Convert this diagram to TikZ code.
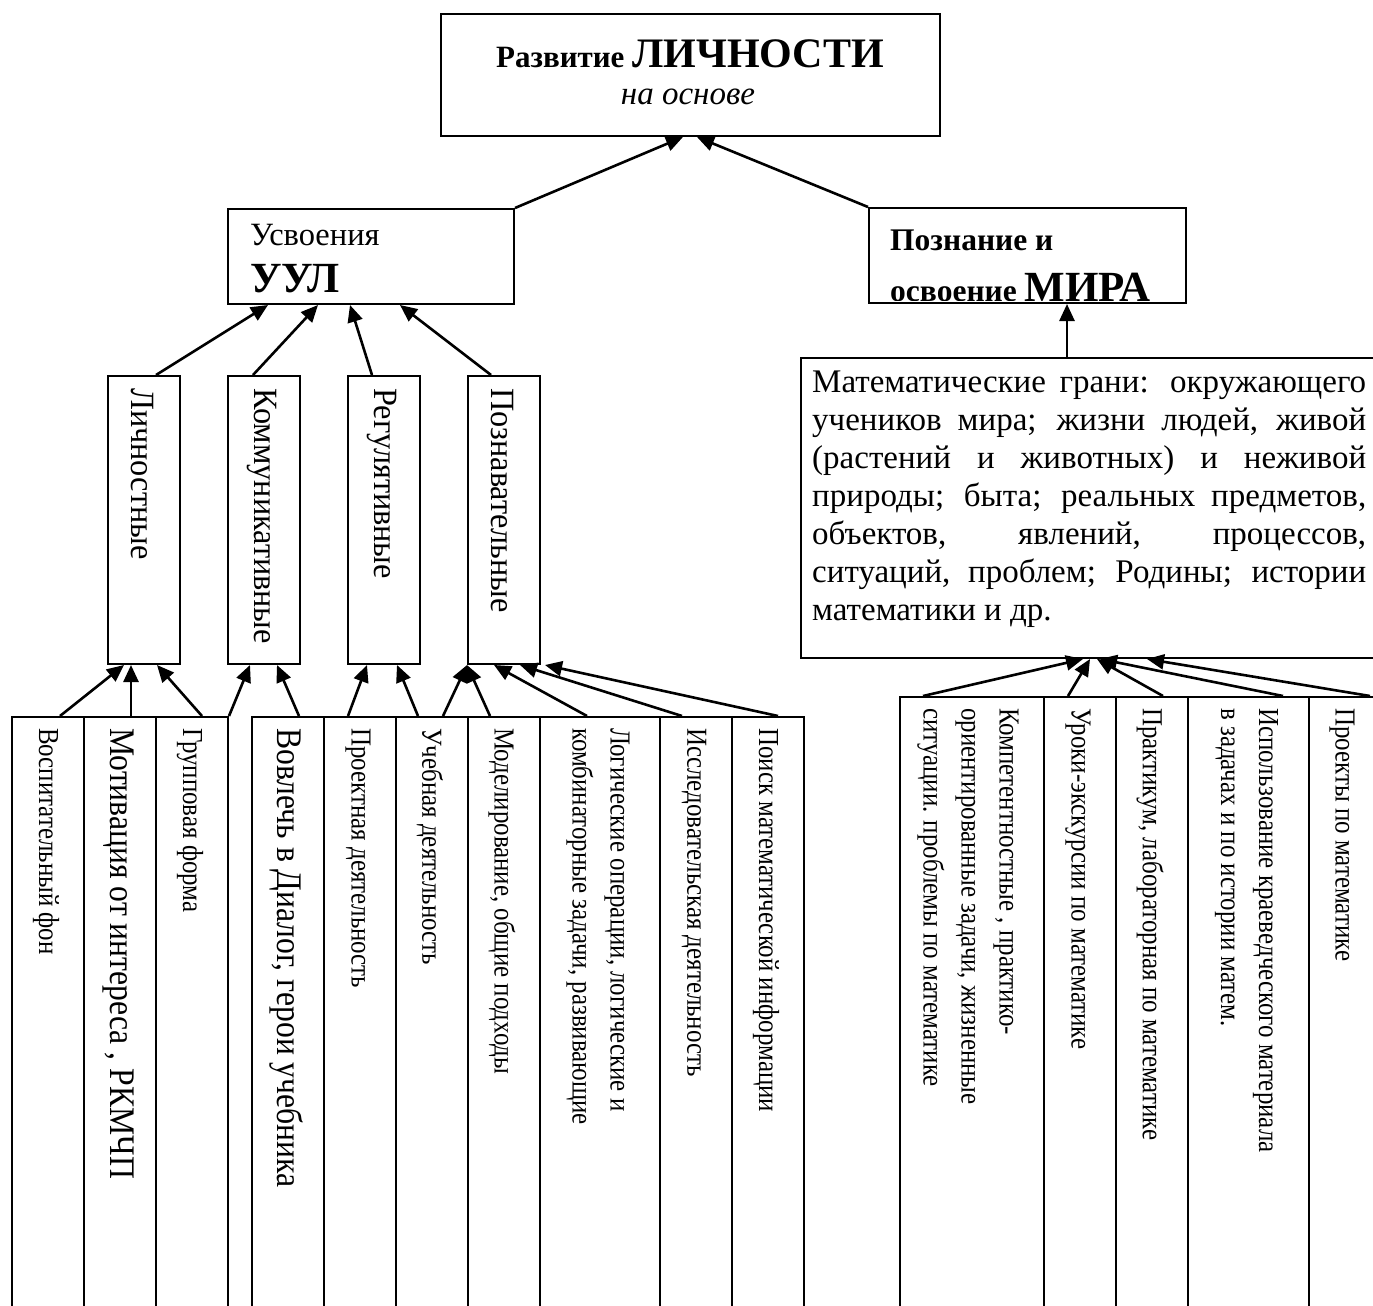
\documentclass[tikz,border=0pt]{standalone}
\usepackage{fontspec}
\setmainfont{Liberation Serif}
\newfontfamily\condfont[FakeStretch=0.86]{Liberation Serif}
\newfontfamily\bigcondfont[FakeStretch=0.88]{Liberation Serif}
\newfontfamily\headfont[FakeStretch=0.95]{Liberation Serif}
\usetikzlibrary{arrows.meta,calc}

\tikzset{
  frame/.style={draw, line width=2pt, inner sep=0pt, anchor=north west},
  arr/.style={-{Triangle[length=17pt,width=15pt]}, line width=2.6pt},
  lbl/.style={anchor=base west, inner sep=0pt},
  vhead/.style={rotate=-90, anchor=west, inner sep=0pt, font=\headfont\fontsize{34}{40}\selectfont},
  vtext/.style={rotate=-90, anchor=west, align=left, inner sep=0pt, font=\condfont\fontsize{29}{38}\selectfont},
  vbig/.style={vtext, font=\bigcondfont\fontsize{36}{44}\selectfont},
}

\begin{document}
\begin{tikzpicture}[x=1pt,y=-1pt]
	\useasboundingbox (0,0) rectangle (1373,1306);
	\clip (0,0) rectangle (1373,1306);

	% top boxes
	\node[frame, minimum width=499pt, minimum height=122pt] (razv) at (440,13) {};
	\node[anchor=base, inner sep=0pt] (razvA) at (690,67) {\fontsize{31}{36}\selectfont\bfseries Развитие \fontsize{42}{48}\selectfont ЛИЧНОСТИ};
	\node[anchor=base, inner sep=0pt] (razvB) at (688,104) {\fontsize{33}{38}\selectfont\itshape на основе};

	\node[frame, minimum width=286pt, minimum height=95pt] (usv) at (227,208) {};
	\node[lbl] (usvA) at (250,245) {\fontsize{32.5}{38}\selectfont Усвоения};
	\node[lbl] (usvB) at (250,292) {\fontsize{43}{48}\selectfont\bfseries УУЛ};

	\node[frame, minimum width=317pt, minimum height=95pt] (pozn) at (868,207) {};
	\begin{scope}
		\clip ($(pozn.north west)+(0,2)$) rectangle ($(pozn.south east)+(0,-4)$);
		\node[lbl] (poznA) at (890,250) {\fontsize{31.5}{36}\selectfont\bfseries Познание и};
		\node[lbl] (poznB) at (890,301) {\fontsize{31.5}{36}\selectfont\bfseries освоение \fontsize{43}{48}\selectfont МИРА};
	\end{scope}

	\node[frame, minimum width=600pt, minimum height=300pt] (mir) at (800,357) {};
	\node[anchor=north west, inner sep=0pt, text width=554pt, align=justify, font=\fontsize{33}{38}\selectfont] (mirT) at (812,371)
		{Математические грани: окружающего\linebreak учеников мира; жизни людей, живой\linebreak (растений и животных) и неживой\linebreak природы; быта; реальных предметов,\linebreak объектов, явлений, процессов,\linebreak ситуаций, проблем; Родины; истории\linebreak математики и др.};

	% kinds of UUD
	\node[frame, minimum width=72pt, minimum height=288pt] (lich) at (107,375) {};
	\node[frame, minimum width=72pt, minimum height=288pt] (komm) at (227,375) {};
	\node[frame, minimum width=72pt, minimum height=288pt] (reg) at (347,375) {};
	\node[frame, minimum width=72pt, minimum height=288pt] (poz) at (467,375) {};
	\node[vhead] (lichT) at ($(lich.north)+(-2,13)$) {Личностные};
	\node[vhead] (kommT) at ($(komm.north)+(-2,13)$) {Коммуникативные};
	\node[vhead] (regT) at ($(reg.north)+(-2,13)$) {Регулятивные};
	\node[vhead] (pozT) at ($(poz.north)+(-2,13)$) {Познавательные};

	% columns, left
	\node[frame, minimum width=72pt, minimum height=620pt] (vosp) at (11,716) {};
	\node[frame, minimum width=72pt, minimum height=620pt] (motiv) at (83,716) {};
	\node[frame, minimum width=72pt, minimum height=620pt] (grup) at (155,716) {};
	\node[frame, minimum width=72pt, minimum height=620pt] (vovl) at (251,716) {};
	\node[frame, minimum width=72pt, minimum height=620pt] (proekt) at (323,716) {};
	\node[frame, minimum width=72pt, minimum height=620pt] (ucheb) at (395,716) {};
	\node[frame, minimum width=72pt, minimum height=620pt] (model) at (467,716) {};
	\node[frame, minimum width=120pt, minimum height=620pt] (logic) at (539,716) {};
	\node[frame, minimum width=72pt, minimum height=620pt] (issl) at (659,716) {};
	\node[frame, minimum width=72pt, minimum height=620pt] (poisk) at (731,716) {};

	\node[vtext] (vospT) at ($(vosp.north)+(-2,12)$) {Воспитательный фон};
	\node[vbig] (motivT) at ($(motiv.north)+(-2,12)$) {Мотивация от интереса , РКМЧП};
	\node[vtext] (grupT) at ($(grup.north)+(-2,12)$) {Групповая форма};
	\node[vbig] (vovlT) at ($(vovl.north)+(-2,12)$) {Вовлечь в Диалог, герои учебника};
	\node[vtext] (proektT) at ($(proekt.north)+(-2,12)$) {Проектная деятельность};
	\node[vtext] (uchebT) at ($(ucheb.north)+(-2,12)$) {Учебная деятельность};
	\node[vtext] (modelT) at ($(model.north)+(-2,12)$) {Моделирование, общие подходы};
	\node[vtext] (logicT) at ($(logic.north)+(-2,12)$) {Логические операции, логические и\\комбинаторные задачи, развивающие};
	\node[vtext] (isslT) at ($(issl.north)+(-2,12)$) {Исследовательская деятельность};
	\node[vtext] (poiskT) at ($(poisk.north)+(-2,12)$) {Поиск математической информации};

	% columns, right
	\node[frame, minimum width=144pt, minimum height=640pt] (komp) at (899,696) {};
	\node[frame, minimum width=72pt, minimum height=640pt] (uroki) at (1043,696) {};
	\node[frame, minimum width=72pt, minimum height=640pt] (prakt) at (1115,696) {};
	\node[frame, minimum width=121pt, minimum height=640pt] (kraev) at (1187,696) {};
	\node[frame, minimum width=90pt, minimum height=640pt] (proekty) at (1308,696) {};

	\node[vtext] (kompT) at ($(komp.north)+(-4,12)$) {Компетентностные , практико-\\ориентированные задачи, жизненные\\ситуации. проблемы по математике};
	\node[vtext] (urokiT) at ($(uroki.north)+(-2,12)$) {Уроки-экскурсии по математике};
	\node[vtext] (praktT) at ($(prakt.north)+(-2,12)$) {Практикум, лабораторная по математике};
	\node[vtext] (kraevT) at ($(kraev.north)+(-2,12)$) {Использование краеведческого материала\\в задачах и по истории матем.};
	\node[vtext] (proektyT) at ($(proekty.north west)+(34,12)$) {Проекты по математике};

	% arrows up
	\draw[arr] (usv.north east) -- ($(razv.south west)+(243,0)$);
	\draw[arr] (pozn.north west) -- ($(razv.south west)+(257,0)$);
	\draw[arr] ($(mir.north west)+(267,0)$) -- ($(pozn.south west)+(199,0)$);

	\draw[arr] ($(lich.north)+(12,0)$) -- ($(usv.south west)+(41,0)$);
	\draw[arr] ($(komm.north)+(-11,0)$) -- ($(usv.south west)+(91,0)$);
	\draw[arr] ($(reg.north)+(-12,0)$) -- ($(usv.south west)+(123,0)$);
	\draw[arr] ($(poz.north)+(-13,0)$) -- ($(usv.south west)+(173,0)$);

	\draw[arr] ($(vosp.north west)+(49,0)$) -- ($(lich.south west)+(17,0)$);
	\draw[arr] ($(motiv.north west)+(48,0)$) -- ($(lich.south west)+(24,0)$);
	\draw[arr] ($(grup.north west)+(47,0)$) -- ($(lich.south west)+(50,0)$);
	\draw[arr] (grup.north east) -- ($(komm.south west)+(23,0)$);
	\draw[arr] ($(vovl.north west)+(48,0)$) -- ($(komm.south west)+(50,0)$);
	\draw[arr] ($(proekt.north west)+(25,0)$) -- ($(reg.south west)+(20,0)$);
	\draw[arr] ($(ucheb.north west)+(23,0)$) -- ($(reg.south west)+(50,0)$);
	\draw[arr] ($(ucheb.north west)+(48,0)$) -- (poz.south west);
	\draw[arr] ($(model.north west)+(23,0)$) -- (poz.south west);
	\draw[arr] ($(logic.north west)+(48,0)$) -- ($(poz.south west)+(27,0)$);
	\draw[arr] ($(issl.north west)+(23,0)$) -- ($(poz.south west)+(53,0)$);
	\draw[arr] ($(poisk.north west)+(47,0)$) -- ($(poz.south east)+(4,0)$);

	\draw[arr] ($(komp.north west)+(24,0)$) -- ($(mir.south west)+(283,0)$);
	\draw[arr] ($(uroki.north west)+(25,0)$) -- ($(mir.south west)+(290,0)$);
	\draw[arr] ($(prakt.north west)+(48,0)$) -- ($(mir.south west)+(297,0)$);
	\draw[arr] ($(kraev.north west)+(96,0)$) -- ($(mir.south west)+(300,0)$);
	\draw[arr] ($(proekty.north west)+(62,0)$) -- ($(mir.south west)+(347,0)$);
\end{tikzpicture}
\end{document}
